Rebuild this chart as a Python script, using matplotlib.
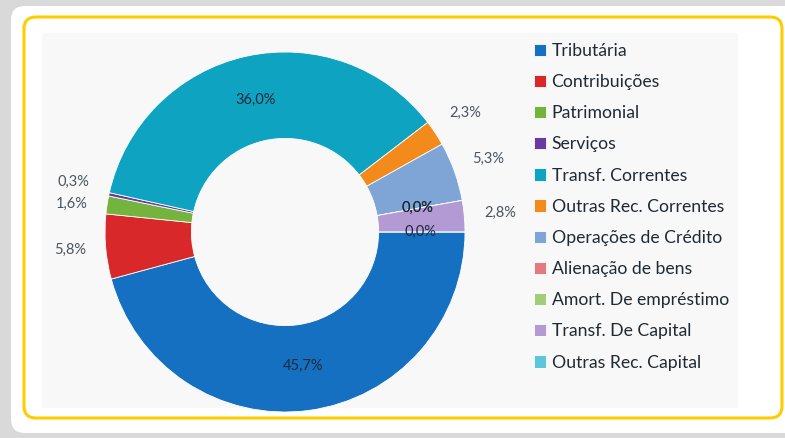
import matplotlib
matplotlib.use("Agg")
import matplotlib.pyplot as plt
from matplotlib.patches import FancyBboxPatch, Rectangle
import numpy as np

categories = ["Tributária", "Contribuições", "Patrimonial", "Serviços",
              "Transf. Correntes", "Outras Rec. Correntes", "Operações de Crédito",
              "Alienação de bens", "Amort. De empréstimo", "Transf. De Capital",
              "Outras Rec. Capital"]
values = [45.7, 5.8, 1.6, 0.3, 36.0, 2.3, 5.3, 0.0, 0.0, 2.8, 0.0]
labels = ["45,7%", "5,8%", "1,6%", "0,3%", "36,0%", "2,3%", "5,3%",
          "0,0%", "0,0%", "2,8%", "0,0%"]
colors = ["#1570c2", "#d8282a", "#74b43e", "#6a3aa0", "#0fa3c2", "#f28a1c",
          "#7fa4d6", "#e27a7e", "#a3cc78", "#b39ad4", "#5cc6dc"]

W, H = 785, 438
fig = plt.figure(figsize=(W / 100, H / 100), dpi=100)
fig.patch.set_facecolor("#d9d9d9")

# background frame
bg = fig.add_axes([0, 0, 1, 1], zorder=0)
bg.set_xlim(0, W)
bg.set_ylim(H, 0)
bg.axis("off")
bg.add_patch(FancyBboxPatch((11, 6), 800, 427, boxstyle="round,pad=0,rounding_size=14",
                            fc="white", ec="none"))
bg.add_patch(FancyBboxPatch((24, 17), 758, 401, boxstyle="round,pad=0,rounding_size=12",
                            fc="white", ec="#ffcc00", lw=2.2))
bg.add_patch(Rectangle((42, 33), 696, 375, fc="#f8f8f8", ec="none"))

# donut
cx, cy, R = 285, 232, 180
lim = 1.35
half = lim * R
ax = fig.add_axes([(cx - half) / W, (H - cy - half) / H, 2 * half / W, 2 * half / H], zorder=1)
ax.set_facecolor("none")
wedges, _ = ax.pie(values, colors=colors, startangle=0, counterclock=False, radius=1.0,
                   wedgeprops=dict(width=0.48, edgecolor="white", linewidth=0.6))
ax.set_xlim(-lim, lim)
ax.set_ylim(-lim, lim)
ax.set_aspect("equal")
ax.axis("off")

inside, outside = [], []
for w, v, lab in zip(wedges, values, labels):
    ang = np.deg2rad((w.theta1 + w.theta2) / 2)
    if v >= 10 or v == 0:
        r = 0.75
        inside.append([r * np.cos(ang), r * np.sin(ang), lab])
    else:
        r = 1.2
        outside.append([r * np.cos(ang), r * np.sin(ang), lab])

# spread overlapping outside labels vertically (per side)
min_gap = 0.125
for side in (-1, 1):
    grp = sorted([o for o in outside if np.sign(o[0]) == side], key=lambda o: o[1])
    for _ in range(20):
        for a, b in zip(grp[:-1], grp[1:]):
            gap = b[1] - a[1]
            if gap < min_gap:
                d = (min_gap - gap) / 2
                a[1] -= d
                b[1] += d

for x, y, lab in inside:
    ax.text(x, y, lab, ha="center", va="center", fontsize=10.5,
            color="#1b2a3a", family="Lato")
for x, y, lab in outside:
    ax.text(x, y, lab, ha="center", va="center", fontsize=10.5,
            color="#4a5560", family="Lato")

leg = fig.legend(wedges, categories, loc="upper left",
                 bbox_to_anchor=(518 / W, 1 - 27 / H), frameon=False,
                 handlelength=0.7, handleheight=0.7, handletextpad=0.3,
                 labelspacing=0.86, prop=dict(family="Lato", size=12.7))
for t in leg.get_texts():
    t.set_color("#1f2a33")

fig.savefig("out.png", dpi=100, facecolor=fig.get_facecolor())
